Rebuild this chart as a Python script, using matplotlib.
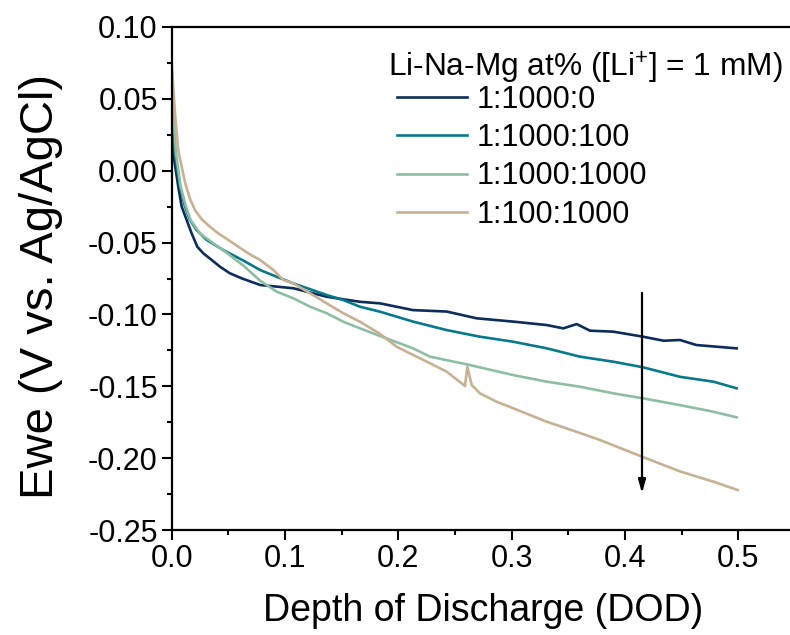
import matplotlib
matplotlib.use("Agg")
import matplotlib.pyplot as plt
from matplotlib.ticker import MultipleLocator, FormatStrFormatter

plt.rcParams['font.family'] = ['Liberation Sans', 'DejaVu Sans']
plt.rcParams['mathtext.fontset'] = 'custom'
plt.rcParams['mathtext.rm'] = 'Liberation Sans'
plt.rcParams['mathtext.it'] = 'Liberation Sans'
plt.rcParams['mathtext.default'] = 'regular'
plt.rcParams['axes.unicode_minus'] = False

# ---- data ----
labels = ["1:1000:0", "1:1000:100", "1:1000:1000", "1:100:1000"]
colors = ["#0c2d5b", "#07798b", "#8dbea4", "#c8b092"]
legend_title = "Li-Na-Mg at% ([Li$^{+}$] = 1 mM)"

dod_navy = [0.0, 0.0014, 0.0058, 0.0088, 0.0132, 0.0176, 0.0226, 0.0279, 0.0353, 0.0426, 0.0514, 0.0618,
            0.078, 0.1074, 0.1368, 0.166, 0.1838, 0.213, 0.2427, 0.269, 0.3014, 0.331, 0.3455, 0.3574,
            0.369, 0.3897, 0.416, 0.434, 0.4485, 0.463, 0.4985]
ewe_navy = [0.045, 0.012, -0.0111, -0.025, -0.0343, -0.0436, -0.0529, -0.0575, -0.0621, -0.0668, -0.0714, -0.0749,
            -0.0795, -0.0818, -0.0877, -0.0912, -0.0923, -0.097, -0.098, -0.1027, -0.105, -0.1074, -0.1097, -0.1067,
            -0.1113, -0.112, -0.1155, -0.1183, -0.1178, -0.1213, -0.1236]

dod_teal = [0.0, 0.0009, 0.0029, 0.0073, 0.0117, 0.0161, 0.022, 0.0309, 0.0455, 0.0632, 0.078, 0.0927,
            0.1074, 0.1368, 0.1515, 0.166, 0.1838, 0.213, 0.2427, 0.272, 0.3014, 0.331, 0.3603, 0.3897,
            0.416, 0.4485, 0.478, 0.4985]
ewe_teal = [0.055, 0.0353, 0.012, -0.0111, -0.025, -0.0343, -0.0413, -0.0482, -0.0552, -0.0625, -0.0691, -0.0738,
            -0.0784, -0.0865, -0.090, -0.0946, -0.0981, -0.105, -0.1109, -0.1155, -0.119, -0.1236, -0.1294, -0.1329,
            -0.1368, -0.1434, -0.1468, -0.1514]

dod_green = [0.0, 0.0009, 0.0038, 0.0079, 0.0126, 0.0167, 0.025, 0.0367, 0.05, 0.0632, 0.078, 0.0927,
             0.1074, 0.1221, 0.1368, 0.1515, 0.1662, 0.1838, 0.213, 0.228, 0.263, 0.3014, 0.331, 0.3603,
             0.3897, 0.416, 0.4485, 0.478, 0.4985]
ewe_green = [0.060, 0.047, 0.012, -0.0111, -0.025, -0.0343, -0.0436, -0.0505, -0.0580, -0.0660, -0.0765, -0.0842,
             -0.0888, -0.0946, -0.0992, -0.1051, -0.1097, -0.1150, -0.1236, -0.1294, -0.1352, -0.1422, -0.1468, -0.1503,
             -0.1549, -0.1584, -0.1631, -0.1677, -0.1716]

dod_tan = [0.0, 0.0029, 0.0058, 0.0117, 0.0161, 0.0206, 0.0265, 0.0338, 0.0411, 0.050, 0.0588, 0.0676,
           0.078, 0.0897, 0.0985, 0.1074, 0.1221, 0.1368, 0.1515, 0.1662, 0.1838, 0.1985, 0.2132, 0.228,
           0.2427, 0.256, 0.2588, 0.2609, 0.2647, 0.272, 0.2868, 0.3014, 0.3162, 0.331, 0.3426, 0.378,
           0.415, 0.4485, 0.478, 0.4994]
ewe_tan = [0.0747, 0.040, 0.014, -0.0080, -0.0195, -0.0275, -0.0338, -0.039, -0.0436, -0.0482, -0.0529, -0.0575,
           -0.0621, -0.0691, -0.076, -0.0784, -0.0853, -0.0923, -0.0992, -0.1051, -0.1135, -0.1225, -0.1283, -0.134,
           -0.1399, -0.148, -0.1498, -0.1364, -0.1491, -0.1549, -0.1608, -0.1653, -0.170, -0.1747, -0.1777, -0.1874,
           -0.199, -0.2092, -0.2164, -0.2222]

xs = [dod_navy, dod_teal, dod_green, dod_tan]
ys = [ewe_navy, ewe_teal, ewe_green, ewe_tan]

arrow_x = 0.415
arrow_y_start = -0.085
arrow_y_end = -0.2245

# ---- figure ----
fig = plt.figure(figsize=(7.9, 6.35), dpi=100)
ax = fig.add_axes([171.7 / 790, 105 / 635, (795 - 171.7) / 790, (530 - 27) / 635])

for x, y, c, lab in zip(xs, ys, colors, labels):
    ax.plot(x, y, color=c, lw=1.9, label=lab, solid_joinstyle='round')

ax.annotate("", xy=(arrow_x, arrow_y_end), xytext=(arrow_x, arrow_y_start),
            arrowprops=dict(arrowstyle="-|>,head_length=0.8,head_width=0.22", color="black", lw=1.6,
                            shrinkA=0, shrinkB=0))

ax.set_xlim(0, 0.55)
ax.set_ylim(-0.25, 0.10)
ax.xaxis.set_major_locator(MultipleLocator(0.1))
ax.xaxis.set_minor_locator(MultipleLocator(0.05))
ax.yaxis.set_major_locator(MultipleLocator(0.05))
ax.yaxis.set_minor_locator(MultipleLocator(0.025))
ax.xaxis.set_major_formatter(FormatStrFormatter('%.1f'))
ax.yaxis.set_major_formatter(FormatStrFormatter('%.2f'))

for s in ['left', 'bottom', 'top']:
    ax.spines[s].set_linewidth(1.6)
ax.spines['right'].set_visible(False)

ax.tick_params(which='major', direction='out', length=7, width=1.5, labelsize=22, pad=3)
ax.tick_params(which='minor', direction='out', length=3.5, width=1.5)
ax.tick_params(top=False, right=False, which='both')

ax.set_xlabel("Depth of Discharge (DOD)", fontsize=27, labelpad=14)
ax.set_ylabel("Ewe (V vs. Ag/AgCl)", fontsize=34, labelpad=18)
ax.yaxis.label.set_y(0.485)

ax.text(0.347, 0.918, legend_title, transform=ax.transAxes, fontsize=22.8,
        ha='left', va='center')
leg = ax.legend(loc='upper left', bbox_to_anchor=(0.3615, 0.885),
                frameon=False, fontsize=22,
                handlelength=2.3, handletextpad=0.3, labelspacing=0.27, borderpad=0,
                borderaxespad=0)

fig.savefig("out.png", dpi=100)
